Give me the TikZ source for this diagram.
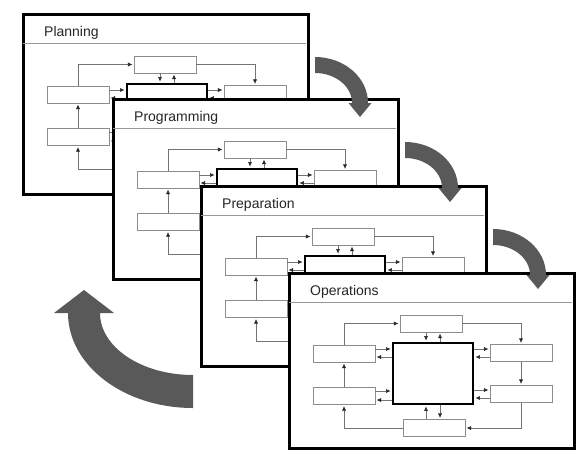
\documentclass[tikz,border=0pt]{standalone}
\usepackage{fontspec}
\setmainfont{Liberation Sans}
\usetikzlibrary{arrows.meta}
\begin{document}
\begin{tikzpicture}[x=1pt, y=-1pt,
  panel/.style={draw, line width=2.8pt, fill=white, inner sep=0pt,
    anchor=north west, minimum width=285pt},
  title/.style={anchor=base west, inner sep=0pt, text=black!85,
    font=\fontsize{14}{16}\selectfont},
  blk/.style={draw=black!45, line width=0.7pt, fill=white,
    minimum width=62pt, minimum height=17pt, inner sep=0pt},
  hub/.style={draw, line width=2.4pt, fill=white,
    minimum width=80pt, minimum height=61pt, inner sep=0pt},
  con/.style={draw=black!55, line width=0.6pt, shorten >=1.2pt,
    -{Latex[length=4.5pt,width=4pt,color=black!85]}},
  turn/.style={fill=black!65}]
  \useasboundingbox (0,0) rectangle (580,450);
  % one window per phase, each one over the one before
  \foreach \p/\x/\y/\h/\ttl in {plan/22/13/180/Planning, prog/112/98/180/Programming,
      prep/200/185/180/Preparation, oper/288/272/175/Operations} {
    \begin{scope}[shift={(\x,\y)}]
      \node[panel, minimum height=\h pt] (\p) at (0,0) {};
      \draw[black!40, line width=0.6pt] (1.4,30) -- (283.6,30);
      \node[title] (\p t) at (22,23) {\ttl};
      \node[blk] (\p top) at (143,51.5) {};
      \node[blk] (\p lu) at (56,81.5) {};
      \node[blk] (\p ll) at (56,124) {};
      \node[blk] (\p ru) at (233,81) {};
      \node[blk] (\p rl) at (233,122) {};
      \node[blk] (\p bot) at (146,156) {};
      \node[hub] (\p hub) at (145,101.5) {};
      % ring
      \draw[con] (\p lu.north) |- (\p top.west);
      \draw[con] (\p top.east) -| (\p ru.north);
      \draw[con] (\p ru.south) -- (\p rl.north);
      \draw[con] (\p rl.south) |- (\p bot.east);
      \draw[con] (\p bot.west) -| (\p ll.south);
      \draw[con] (\p ll.north) -- (\p lu.south);
      % to and from the hub
      \draw[con] (\p lu.east |- 0,77) -- (\p hub.west |- 0,77);
      \draw[con] (\p hub.west |- 0,85) -- (\p lu.east |- 0,85);
      \draw[con] (\p ll.east |- 0,119) -- (\p hub.west |- 0,119);
      \draw[con] (\p hub.west |- 0,128) -- (\p ll.east |- 0,128);
      \draw[con] (\p hub.east |- 0,77) -- (\p ru.west |- 0,77);
      \draw[con] (\p ru.west |- 0,85) -- (\p hub.east |- 0,85);
      \draw[con] (\p hub.east |- 0,118) -- (\p rl.west |- 0,118);
      \draw[con] (\p rl.west |- 0,126) -- (\p hub.east |- 0,126);
      \draw[con] (\p top.south -| 138,0) -- (\p hub.north -| 138,0);
      \draw[con] (\p hub.north -| 152,0) -- (\p top.south -| 152,0);
      \draw[con] (\p bot.north -| 138,0) -- (\p hub.south -| 138,0);
      \draw[con] (\p hub.south -| 152,0) -- (\p bot.north -| 152,0);
    \end{scope}
  }
  % curved arrows from one window to the next
  \foreach \x/\y in {22/13, 112/98, 200/185} {
    \begin{scope}[shift={(\x,\y)}]
      \fill[turn] (293,44) .. controls (322.3,44) and (346,64.6) .. (346,90)
        -- (349.5,90) -- (338,104) -- (326.5,90) -- (330,90)
        .. controls (330,73.4) and (313.4,60) .. (293,60) -- cycle;
    \end{scope}
  }
  % back to the start
  \fill[turn] (193,408) .. controls (124,408) and (68,365.5) .. (68,313)
    -- (54,313) -- (84,290) -- (114,313) -- (100,313)
    .. controls (100,347.2) and (141.6,375) .. (193,375) -- cycle;
\end{tikzpicture}
\end{document}
